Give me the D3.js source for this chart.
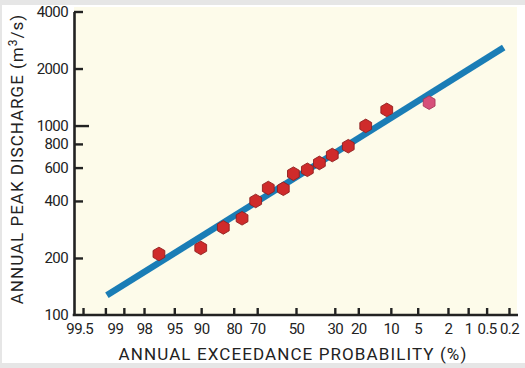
<!DOCTYPE html>
<html><head><meta charset="utf-8">
<script src="https://cdn.jsdelivr.net/npm/d3@7"></script>
<style>
html,body{margin:0;padding:0;background:#e6e6e6;}
svg{display:block;}
text{font-family:Roboto,"Noto Sans",sans-serif;fill:#222;}
</style></head>
<body>
<svg id="c" width="525" height="368"></svg>
<script>
// ---- data ----
const exceedance = [96.8, 90.1, 83.7, 76.7, 70.7, 64.6, 56.8, 51.4, 43.9, 37.6, 31.2, 24.0, 17.3, 11.0, 3.6];
const discharge  = [210, 226, 290, 324, 400, 468, 464, 557, 584, 635, 699, 778, 996, 1210, 1321];
const highlight  = [false,false,false,false,false,false,false,false,false,false,false,false,false,false,true];
const fitP = [99.47, 0.25];
const fitQ = [127, 2580];
const xTickValues = [99.8, 99.5, 99, 98, 95, 90, 80, 70, 50, 30, 20, 10, 5, 2, 1, 0.5, 0.2];
const xLabelValues = [99.83, 99.28, 98, 95, 90, 80, 70, 50, 30, 20, 10, 5, 2, 1, 0.5, 0.2];
const xLabelTexts  = ["99.5","99","98","95","90","80","70","50","30","20","10","5","2","1","0.5","0.2"];
const yTickValues = [100, 200, 400, 600, 800, 1000, 2000, 4000];
const xTitle = "ANNUAL EXCEEDANCE PROBABILITY (%)";
const yTitleMain = "ANNUAL PEAK DISCHARGE (m";
const yTitleSup = "3";
const yTitleEnd = "/s)";

// inverse normal CDF (Acklam)
function qnorm(p){
  const a=[-3.969683028665376e+01,2.209460984245205e+02,-2.759285104469687e+02,1.383577518672690e+02,-3.066479806614716e+01,2.506628277459239e+00];
  const b=[-5.447609879822406e+01,1.615858368580409e+02,-1.556989798598866e+02,6.680131188771972e+01,-1.328068155288572e+01];
  const c=[-7.784894002430293e-03,-3.223964580411365e-01,-2.400758277161838e+00,-2.549732539343734e+00,4.374664141464968e+00,2.938163982698783e+00];
  const d=[7.784695709041462e-03,3.224671290700398e-01,2.445134137142996e+00,3.754408661907416e+00];
  const pl=0.02425;
  let q,r;
  if(p<pl){q=Math.sqrt(-2*Math.log(p));return (((((c[0]*q+c[1])*q+c[2])*q+c[3])*q+c[4])*q+c[5])/((((d[0]*q+d[1])*q+d[2])*q+d[3])*q+1);}
  if(p<=1-pl){q=p-0.5;r=q*q;return (((((a[0]*r+a[1])*r+a[2])*r+a[3])*r+a[4])*r+a[5])*q/(((((b[0]*r+b[1])*r+b[2])*r+b[3])*r+b[4])*r+1);}
  q=Math.sqrt(-2*Math.log(1-p));return -(((((c[0]*q+c[1])*q+c[2])*q+c[3])*q+c[4])*q+c[5])/((((d[0]*q+d[1])*q+d[2])*q+d[3])*q+1);
}
// exceedance p% -> standard normal quantile of non-exceedance
const zOf = p => qnorm(1 - p/100);

const svg = d3.select("#c");
const L = 74, R = 518, T = 11.5, B = 315;

// card
svg.append("rect").attr("x",2).attr("y",5).attr("width",523).attr("height",358).attr("fill","#ffffff");
svg.append("rect").attr("x",L).attr("y",7).attr("width",517-L).attr("height",B-7).attr("fill","#fdfbea");

const zScale = d3.scaleLinear().domain([-3.0, 3.0]).range([L, R]);
const x = p => zScale(zOf(p));  // high exceedance on the left
const y = d3.scaleLog().domain([100, 4000]).range([B, T]);

// fit line
svg.append("line")
  .attr("x1", x(fitP[0])).attr("y1", y(fitQ[0]))
  .attr("x2", x(fitP[1])).attr("y2", y(fitQ[1]))
  .attr("stroke","#1a7db6").attr("stroke-width",6.5);

// points (hexagons)
const hexR = 6.8;
const hex = d3.range(6).map(i => { const a = Math.PI/3*i - Math.PI/2; return [hexR*Math.cos(a), hexR*Math.sin(a)]; });
const hexPath = "M" + hex.map(p=>p.join(",")).join("L") + "Z";
svg.append("g").selectAll("path").data(exceedance).join("path")
  .attr("d", hexPath)
  .attr("transform", (d,i) => `translate(${x(d)},${y(discharge[i])})`)
  .attr("fill", (d,i) => highlight[i] ? "#d6507a" : "#cf2b2b")
  .attr("stroke", (d,i) => highlight[i] ? "#a8385a" : "#8e1f1f")
  .attr("stroke-width", 0.9);

// y axis
const yAxis = d3.axisLeft(y).tickValues(yTickValues).tickFormat(d3.format("d")).tickSize(-9).tickSizeOuter(0).tickPadding(6);
const gy = svg.append("g").attr("transform",`translate(${L},0)`).call(yAxis);
gy.select(".domain").attr("stroke","#222").attr("stroke-width",2.6);
gy.selectAll(".tick line").attr("stroke","#222").attr("stroke-width",2.4)
  .attr("x2", d => d === 1000 ? 15 : 9);
gy.selectAll(".tick text").attr("font-size",15).attr("letter-spacing",-0.6).attr("fill","#222")
  .style("font-family","Roboto,sans-serif");
gy.selectAll(".tick").filter(d => d === 100).select("line").remove();

// x axis ticks
const xs = d3.scaleLinear().domain([L,R]).range([L,R]);
const gx = svg.append("g").attr("transform",`translate(0,${B})`)
  .call(d3.axisBottom(xs).tickValues(xTickValues.map(x)).tickFormat("").tickSize(-7).tickSizeOuter(0));
gx.select(".domain").attr("stroke","#222").attr("stroke-width",2.6)
  .attr("d", `M${L-1.3},0H${R}`);
gx.selectAll(".tick line").attr("stroke","#222").attr("stroke-width",2.4);

// x labels
const labelPos = xLabelValues.map(x);
const gl = svg.append("g").attr("transform",`translate(0,${B})`)
  .call(d3.axisBottom(xs).tickValues(labelPos).tickSize(0).tickPadding(8)
    .tickFormat((d,i) => xLabelTexts[i]));
gl.select(".domain").remove();
gl.selectAll(".tick text").attr("font-size",15).attr("letter-spacing",-0.6).attr("fill","#222")
  .style("font-family","Roboto,sans-serif");

// titles
svg.append("text").attr("x", 293).attr("y", 360).attr("text-anchor","middle")
  .attr("font-size",17).attr("letter-spacing",1.1).text(xTitle);
const yt = svg.append("text").attr("transform","translate(23,159) rotate(-90)").attr("text-anchor","middle")
  .attr("font-size",17).attr("letter-spacing",1.0);
yt.append("tspan").text(yTitleMain);
yt.append("tspan").attr("dy",-6).attr("font-size",12).text(yTitleSup);
yt.append("tspan").attr("dy",6).text(yTitleEnd);
</script>
</body></html>
